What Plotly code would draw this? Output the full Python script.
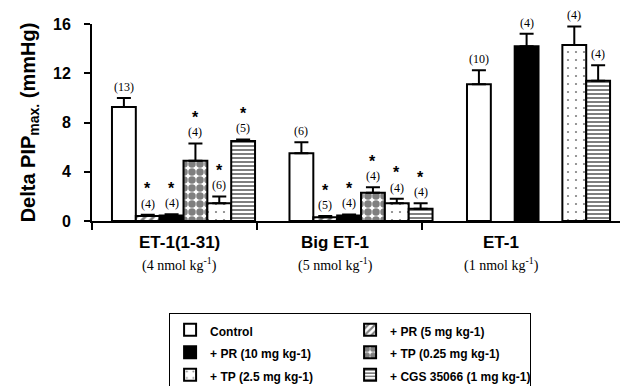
import plotly.graph_objects as go

# ---------------- data ----------------
groups = ["ET-1(1-31)", "Big ET-1", "ET-1"]
doses = ["(4 nmol kg<sup>-1</sup>)", "(5 nmol kg<sup>-1</sup>)", "(1 nmol kg<sup>-1</sup>)"]

series_names = ["Control", "+ PR (5 mg kg-1)", "+ PR (10 mg kg-1)",
                "+ TP (0.25 mg kg-1)", "+ TP (2.5 mg kg-1)", "+ CGS 35066 (1 mg kg-1)"]

control = [9.25, 5.5, 11.1]
control_err = [0.75, 0.9, 1.15]
control_n = [13, 6, 10]

pr5 = [0.4, 0.3, None]
pr5_err = [0.1, 0.1, None]
pr5_n = [4, 5, None]

pr10 = [0.45, 0.45, 14.2]
pr10_err = [0.1, 0.08, 1.0]
pr10_n = [4, 4, 4]

tp025 = [4.9, 2.3, None]
tp025_err = [1.4, 0.45, None]
tp025_n = [4, 4, None]

tp25 = [1.45, 1.45, 14.3]
tp25_err = [0.55, 0.35, 1.5]
tp25_n = [6, 4, 4]

cgs = [6.5, 1.0, 11.4]
cgs_err = [0.12, 0.45, 1.25]
cgs_n = [5, 4, 4]

# significance stars (True = *)
stars = {
    "control": [False, False, False],
    "pr5": [True, True, False],
    "pr10": [True, True, False],
    "tp025": [True, True, False],
    "tp25": [True, True, False],
    "cgs": [True, True, False],
}

yticks = [0, 4, 8, 12, 16]

# ---------------- styles ----------------
series = [
    ("control", control, control_err, control_n,
     dict(color="white")),
    ("pr5", pr5, pr5_err, pr5_n,
     dict(color="white", pattern=dict(shape="/", fgcolor="black", bgcolor="white", size=6, solidity=0.45))),
    ("pr10", pr10, pr10_err, pr10_n,
     dict(color="black")),
    ("tp025", tp025, tp025_err, tp025_n,
     dict(color="white", pattern=dict(shape=".", fgcolor="black", bgcolor="white", size=8, solidity=0.7))),
    ("tp25", tp25, tp25_err, tp25_n,
     dict(color="white", pattern=dict(shape=".", fgcolor="black", bgcolor="white", size=8, solidity=0.06))),
    ("cgs", cgs, cgs_err, cgs_n,
     dict(color="white", pattern=dict(shape="-", fgcolor="black", bgcolor="white", size=4, solidity=0.5))),
]

bargap = 0.194
nser = len(series)
bw = (1 - bargap) / nser
xs = list(range(len(groups)))

fig = go.Figure()
annotations = []
for j, (key, vals, errs, ns, mk) in enumerate(series):
    marker = dict(mk)
    marker["line"] = dict(color="black", width=2)
    fig.add_trace(go.Bar(
        x=xs, y=vals,
        name=f'<span style="font-size:12px">{series_names[j]}</span>',
        marker=marker,
        error_y=dict(type="data", array=errs, arrayminus=[0] * len(vals), symmetric=False,
                     color="black", thickness=2, width=7),
    ))
    for i in xs:
        if vals[i] is None:
            continue
        xpos = i + (j - (nser - 1) / 2) * bw
        top = vals[i] + errs[i]
        annotations.append(dict(x=xpos, y=top, xref="x", yref="y", text=f"({ns[i]})",
                                showarrow=False, yanchor="middle", yshift=11,
                                font=dict(family="Liberation Serif", size=12, color="black")))
        if stars[key][i]:
            annotations.append(dict(x=xpos, y=top, xref="x", yref="y", text="<b>*</b>",
                                    showarrow=False, yanchor="middle", yshift=26,
                                    font=dict(family="Liberation Sans", size=16, color="black")))

label_x = [-0.025, 0.854, 1.789]
for i, g in enumerate(groups):
    annotations.append(dict(x=label_x[i], y=0, xref="x", yref="paper", text=f"<b>{g}</b>",
                            showarrow=False, yanchor="middle", yshift=-21,
                            font=dict(family="Liberation Sans", size=17, color="black")))
    annotations.append(dict(x=label_x[i], y=0, xref="x", yref="paper", text=doses[i],
                            showarrow=False, yanchor="middle", yshift=-43,
                            font=dict(family="Liberation Serif", size=14, color="black")))

boundary_ticks = [-0.5155, 0.414, 1.344]

fig.update_layout(
    width=624, height=386,
    margin=dict(l=92, r=4, t=24, b=165, autoexpand=False),
    paper_bgcolor="white", plot_bgcolor="white",
    barmode="group", bargap=bargap, bargroupgap=0,
    showlegend=True,
    legend=dict(orientation="h", x=0.146, xanchor="left", y=-0.4645, yanchor="top",
                xref="paper", yref="paper",
                bordercolor="black", borderwidth=1, bgcolor="white",
                entrywidth=135, entrywidthmode="pixels", itemwidth=30,
                font=dict(family="Liberation Sans", size=15, color="black", weight="bold")),
    xaxis=dict(range=[-0.5155, 2.459], showline=True, linecolor="black", linewidth=2,
               tickmode="array", tickvals=boundary_ticks, showticklabels=False,
               ticks="outside", ticklen=7, tickwidth=2, tickcolor="black",
               showgrid=False, zeroline=False, fixedrange=True),
    yaxis=dict(range=[0, 16], tickmode="array", tickvals=yticks,
               showline=True, linecolor="black", linewidth=2,
               ticks="outside", ticklen=6, tickwidth=2, tickcolor="black",
               ticklabelstandoff=10,
               showgrid=False, zeroline=False,
               tickfont=dict(family="Liberation Sans", size=16, color="black", weight="bold"),
               title=dict(text="<b>Delta PIP<sub>max.</sub> (mmHg)</b>", standoff=12,
                          font=dict(family="Liberation Sans", size=20, color="black"))),
    annotations=annotations,
)

fig.write_html("out.html", config={"displayModeBar": False},
               post_script="document.body.style.margin='0';")
